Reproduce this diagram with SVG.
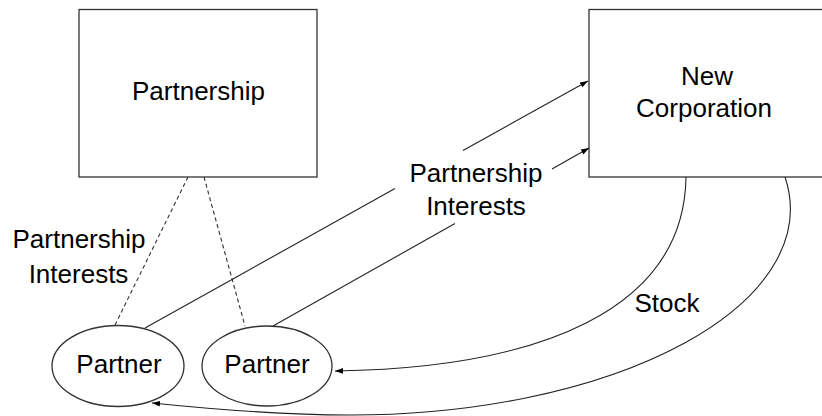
<svg xmlns="http://www.w3.org/2000/svg" width="822" height="416" viewBox="0 0 822 416">
<defs>
<style>
text{font-family:"Liberation Sans",Arial,sans-serif;font-size:26px;fill:#000;text-anchor:middle}
.box{fill:#fff;stroke:#333;stroke-width:1.3}
.ln{fill:none;stroke:#222;stroke-width:1.1}
.dash{fill:none;stroke:#333;stroke-width:1.1;stroke-dasharray:4,3}
</style>
<marker id="ah" viewBox="0 0 10 10" refX="10" refY="5" markerWidth="8" markerHeight="8" markerUnits="userSpaceOnUse" orient="auto">
<path d="M0,1.5 L10,5 L0,8.5 z" fill="#000"/>
</marker>
</defs>
<rect width="822" height="416" fill="#fff"/>
<g id="partnership">
<rect class="box" x="79" y="9.5" width="238" height="167.5"/>
<text x="198.5" y="100">Partnership</text>
</g>
<g id="newcorp">
<rect class="box" x="589" y="9.5" width="240" height="167.5"/>
<text x="707" y="85">New</text>
<text x="704" y="117">Corporation</text>
</g>
<g id="partner1">
<ellipse class="box" cx="118" cy="366" rx="66" ry="40.5"/>
<text x="119" y="373">Partner</text>
</g>
<g id="partner2">
<ellipse class="box" cx="267" cy="366" rx="65" ry="40"/>
<text x="267" y="373">Partner</text>
</g>
<g id="connectors">
<path class="dash" d="M188,177 L115,325"/>
<path class="dash" d="M204,177 L245,326"/>
<path class="ln" d="M145,328 L395,188.5"/>
<path class="ln" d="M463,150.5 L588,81" marker-end="url(#ah)"/>
<path class="ln" d="M273,326 L455,223.5"/>
<path class="ln" d="M552,169 L589,148" marker-end="url(#ah)"/>
<path class="ln" d="M686,177 C684,310 540,368 335,371" marker-end="url(#ah)"/>
<path class="ln" d="M785,177 A440,206 0 0 1 350,415 C280,415 210,409 152,403" marker-end="url(#ah)"/>
</g>
<g id="labels">
<text x="79" y="248">Partnership</text>
<text x="78.5" y="283">Interests</text>
<text x="476" y="182">Partnership</text>
<text x="476" y="215">Interests</text>
<text x="667" y="312">Stock</text>
</g>
</svg>
